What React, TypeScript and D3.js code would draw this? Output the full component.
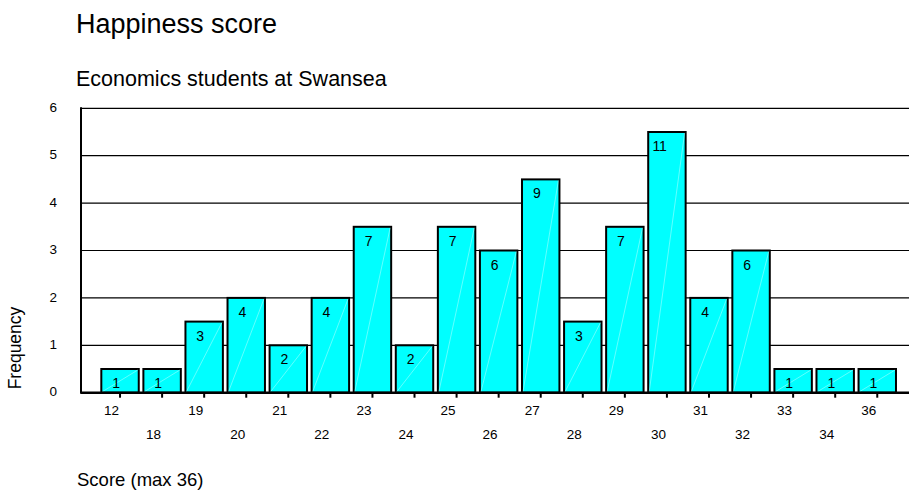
import React from 'react';
import * as d3 from 'd3';

// Score categories as printed under the bars (two staggered rows)
const categories = ['12', '18', '19', '20', '21', '22', '23', '24', '25', '26', '27', '28', '29', '30', '31', '32', '33', '34', '36'];
// Bar heights
const heights = [0.5, 0.5, 1.5, 2, 1, 2, 3.5, 1, 3.5, 3, 4.5, 1.5, 3.5, 5.5, 2, 3, 0.5, 0.5, 0.5];
// Counts printed inside each bar
const counts = [1, 1, 3, 4, 2, 4, 7, 2, 7, 6, 9, 3, 7, 11, 4, 6, 1, 1, 1];
const yTicks = [0, 1, 2, 3, 4, 5, 6];

const W = 909;
const H = 490;
const font = '"Liberation Sans", Arial, sans-serif';

const App: React.FC = () => {
    // plot area
    const left = 81;
    const right = 909;
    const top = 108.3;
    const bottom = 392.7;

    const x = d3
        .scaleBand()
        .domain(categories)
        .range([99, 898.3])
        .paddingInner(0.11)
        .paddingOuter(0.055);

    const y = d3.scaleLinear().domain([0, 6]).range([bottom, top]);

    const bw = x.bandwidth();

    return (
        <div style={{ position: 'absolute', left: 0, top: 0 }}>
            <svg width={W} height={H} style={{ display: 'block', fontFamily: font }}>
                <rect width={W} height={H} fill="#fff" />

                <text x={76} y={33} fontSize={27} fill="#000">
                    Happiness score
                </text>
                <text x={76} y={86} fontSize={21.5} fill="#000">
                    Economics students at Swansea
                </text>

                {/* gridlines */}
                {yTicks.map((t) => (
                    <line key={'g' + t} x1={left} x2={right} y1={y(t)} y2={y(t)} stroke="#000" strokeWidth={1.2} />
                ))}
                {yTicks.map((t) => (
                    <text key={'yt' + t} x={57} y={y(t) - 1} dy="0.35em" textAnchor="end" fontSize={13.5}>
                        {t}
                    </text>
                ))}

                {/* bars */}
                {categories.map((c, i) => {
                    const x0 = x(c)!;
                    const y0 = y(heights[i]);
                    return (
                        <g key={'b' + c}>
                            <rect x={x0} y={y0} width={bw} height={bottom - y0} fill="#00FFFF" stroke="#000" strokeWidth={2} />
                            <line x1={x0 + 1} y1={bottom - 1} x2={x0 + bw - 1} y2={y0 + 1} stroke="#fff" strokeOpacity={0.55} strokeWidth={0.7} />
                            <text x={x0 + bw / 2} y={y0 + 19} textAnchor="end" fontSize={14}>
                                {counts[i]}
                            </text>
                        </g>
                    );
                })}

                {/* axes */}
                <line x1={left} x2={left} y1={top - 1} y2={bottom + 1} stroke="#000" strokeWidth={2} />
                <line x1={left} x2={right} y1={bottom} y2={bottom} stroke="#000" strokeWidth={2.5} />
                {categories.map((c, i) => {
                    const cx = x(c)! + bw / 2;
                    return (
                        <g key={'xt' + c}>
                            <line x1={cx} x2={cx} y1={bottom} y2={bottom + 5} stroke="#000" strokeWidth={2} />
                            <text x={cx - 1} y={i % 2 === 0 ? 414.5 : 438.5} textAnchor="end" fontSize={13.5}>
                                {c}
                            </text>
                        </g>
                    );
                })}

                <text transform={`translate(21,348) rotate(-90)`} textAnchor="middle" fontSize={17.5}>
                    Frequency
                </text>
                <text x={77} y={486} fontSize={18.5}>
                    Score (max 36)
                </text>
            </svg>
        </div>
    );
};

export default App;
